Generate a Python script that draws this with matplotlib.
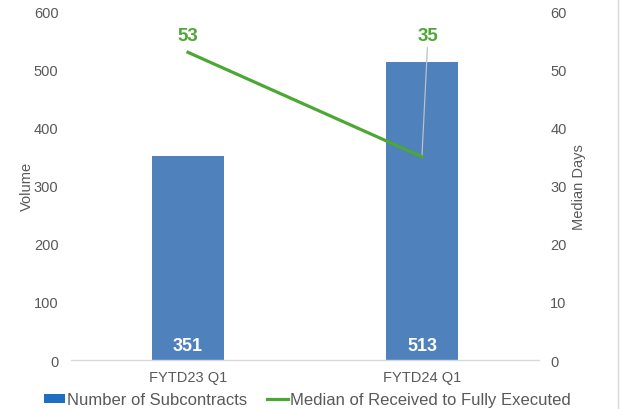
import matplotlib
matplotlib.use("Agg")
import matplotlib.pyplot as plt
from matplotlib.patches import Patch
from matplotlib.lines import Line2D

plt.rcParams["font.family"] = ["Liberation Sans", "DejaVu Sans"]

# Data
quarters = ["FYTD23 Q1", "FYTD24 Q1"]
subcontracts = [351, 513]
median_days = [53, 35]

BAR_COLOR = "#4F81BD"
LINE_COLOR = "#4CA832"
TEXT_COLOR = "#595959"

fig = plt.figure(figsize=(6.21, 4.10), dpi=100)
ax = fig.add_axes([0.1143, 0.1195, 0.7537, 0.8495])
ax2 = ax.twinx()

x = list(range(len(quarters)))

bars = ax.bar(x, subcontracts, width=0.31, color=BAR_COLOR, zorder=2)
ax.set_xlim(-0.5, 1.5)
ax.set_ylim(0, 600)
ax.set_yticks(range(0, 601, 100))
ax.set_xticks(x)
ax.set_xticklabels(quarters)
ax.set_ylabel("Volume", fontsize=10.5, color=TEXT_COLOR, labelpad=0)

for xi, v in zip(x, subcontracts):
    ax.text(xi, 25, str(v), ha="center", va="center", color="white",
            fontsize=13, fontweight="bold", zorder=3)

ax2.plot(x, median_days, color=LINE_COLOR, linewidth=2.3, zorder=3)
ax2.set_ylim(0, 60)
ax2.set_yticks(range(0, 61, 10))
ax2.set_ylabel("Median Days", fontsize=10.5, color=TEXT_COLOR, labelpad=4)

# value labels for the line; second one has a leader line
ax2.text(x[0], median_days[0] + 2.9, str(median_days[0]), ha="center",
         va="center", color=LINE_COLOR, fontsize=13.5, fontweight="bold")
ax2.text(x[1] + 0.025, median_days[1] + 20.9, str(median_days[1]), ha="center",
         va="center", color=LINE_COLOR, fontsize=13.5, fontweight="bold")
ax2.plot([x[1] + 0.023, x[1]], [median_days[1] + 18.8, median_days[1] + 0.3],
         color="#BFBFBF", linewidth=0.9, zorder=2)

for a in (ax, ax2):
    for s in a.spines.values():
        s.set_visible(False)
    a.tick_params(length=0, labelsize=10.5, labelcolor=TEXT_COLOR)
ax.tick_params(axis="y", pad=9)
ax2.tick_params(axis="y", pad=8)
ax.tick_params(axis="x", pad=7)
ax.spines["bottom"].set_visible(True)
ax.spines["bottom"].set_color("#D9D9D9")
ax.spines["bottom"].set_linewidth(1)

handles = [
    Patch(facecolor="#1F6FC0", edgecolor="none"),
    Line2D([], [], color=LINE_COLOR, linewidth=2.3),
]
fig.legend(handles, ["Number of Subcontracts", "Median of Received to Fully Executed"],
           loc="center", bbox_to_anchor=(0.495, 0.022), ncol=2, frameon=False,
           fontsize=12, labelcolor=TEXT_COLOR, handlelength=1.3, handleheight=0.42,
           handletextpad=0.12, columnspacing=1.15, borderpad=0)

# thin chart border visible at right edge
fig.add_artist(Line2D([617.5 / 621, 617.5 / 621], [0, 1], color="#D9D9D9",
                      linewidth=1, transform=fig.transFigure))

fig.savefig("out.png", dpi=100)
